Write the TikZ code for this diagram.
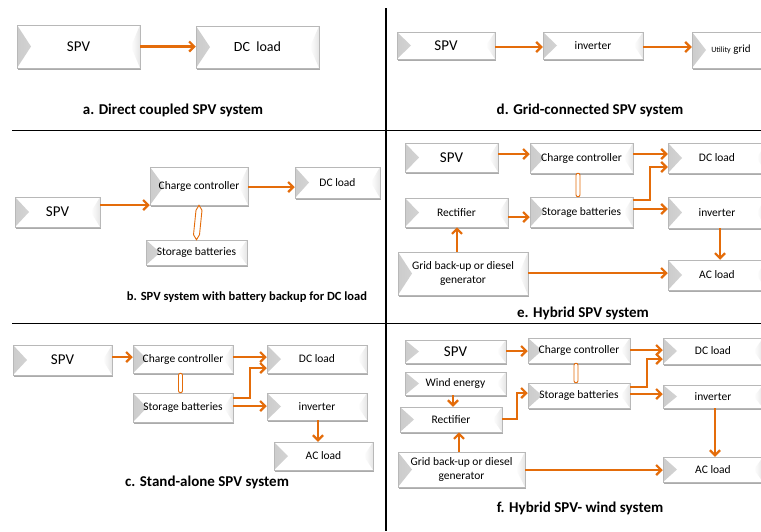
\documentclass[tikz,border=0pt]{standalone}
\usepackage{fontspec}
\setmainfont{Carlito}
\usetikzlibrary{arrows.meta,shadows}
\definecolor{flow}{RGB}{228,108,10}
\tikzset{
  bx/.style={draw=black!28, line width=0.5pt, fill=white, inner sep=1pt, align=center,
    font=\fontsize{11.5}{13.5}\selectfont,
    drop shadow={shadow xshift=0.8pt, shadow yshift=-1.8pt, fill=black!55, opacity=0.6},
    path picture={
      \shade[left color=black!20, right color=white]
        (path picture bounding box.south west) -- (path picture bounding box.north west)
        -- ([xshift=14pt]path picture bounding box.west) -- cycle;
      \shade[left color=white, right color=black!10]
        (path picture bounding box.south east) -- (path picture bounding box.north east)
        -- ([xshift=-9pt]path picture bounding box.east) -- cycle;
    }},
  big/.style={font=\fontsize{15}{17}\selectfont},
  flowarr/.style={draw=flow, line width=2.2pt, -{Straight Barb[length=5pt,width=10pt]}},
  link/.style={draw=flow, line width=0.9pt, fill=white, rounded corners=2pt},
  caption/.style={font=\bfseries\fontsize{15}{17}\selectfont},
  rule/.style={line width=1.6pt, black}
}
\begin{document}
\begin{tikzpicture}[x=1pt, y=-1pt]
\useasboundingbox[fill=white] (0,0) rectangle (761,531);

% panel frames
\draw[rule] (386,8) -- (386,531);
\draw[rule] (12,130.5) -- (761,130.5);
\draw[rule] (12,323.5) -- (761,323.5);

% a. direct coupled
\node[bx, big, minimum width=123pt, minimum height=43pt] (aspv) at (78.5,46.5) {SPV};
\node[bx, font=\fontsize{14}{16}\selectfont, minimum width=123pt, minimum height=42pt] (adc) at (257.5,47) {DC~~load};
\draw[flowarr] (aspv.east) -- (aspv.east -| adc.west);
\node[caption] (capa) at (173,110) {a. Direct coupled SPV system};

% d. grid-connected
\node[bx, big, minimum width=98pt, minimum height=27pt] (dspv) at (446,45.5) {SPV};
\node[bx, minimum width=100pt, minimum height=27pt] (dinv) at (593,45.5) {inverter};
\node[bx, minimum width=78pt, minimum height=36pt] (dgrid) at (731,50) {{\fontsize{8}{9}\selectfont Utility} {\fontsize{11}{12}\selectfont grid}};
\draw[flowarr] (dspv.east |- 0,47) -- (dinv.west |- 0,47);
\draw[flowarr] (dinv.east |- 0,47) -- (dgrid.west |- 0,47);
\node[caption] (capd) at (590,110) {d. Grid-connected SPV system};

% b. battery backup
\node[bx, big, minimum width=85pt, minimum height=30pt] (bspv) at (57.5,212) {SPV};
\node[bx, minimum width=98pt, minimum height=38pt] (bcc) at (199,186) {Charge controller};
\node[bx, minimum width=85pt, minimum height=31pt] (bdc) at (337.5,182.5) {DC load};
\node[bx, minimum width=101pt, minimum height=25pt] (bsb) at (196.5,252.5) {Storage batteries};
\draw[flowarr] (bspv.east |- 0,205) -- (bcc.west |- 0,205);
\draw[flowarr] (bcc.east |- 0,187) -- (bdc.west |- 0,187);
\draw[link, rounded corners=0pt] ([xshift=-3pt,yshift=-5pt]bcc.south) -- (bcc.south)
  -- ([xshift=3pt,yshift=-5pt]bcc.south) -- ([xshift=3pt,yshift=5pt]bsb.north)
  -- (bsb.north) -- ([xshift=-3pt,yshift=5pt]bsb.north) -- cycle;
\node[caption, font=\bfseries\fontsize{12.5}{14}\selectfont] (capb) at (247,297) {b. SPV system with battery backup for DC load};

% c. stand-alone
\node[bx, big, minimum width=99pt, minimum height=30pt] (cspv) at (62.5,360) {SPV};
\node[bx, minimum width=100pt, minimum height=28pt] (ccc) at (183,359) {Charge controller};
\node[bx, minimum width=100pt, minimum height=28pt] (cdc) at (317,359) {DC load};
\node[bx, minimum width=100pt, minimum height=29pt] (csb) at (183,407.5) {Storage batteries};
\node[bx, minimum width=100pt, minimum height=27pt] (cinv) at (317,406.5) {inverter};
\node[bx, minimum width=99pt, minimum height=28pt] (cac) at (323.5,456) {AC load};
\draw[flowarr] (cspv.east |- 0,357) -- (ccc.west |- 0,357);
\draw[flowarr] (ccc.east |- 0,357) -- (cdc.west |- 0,357);
\draw[flowarr] (csb.east |- 0,398) -- (250,398) -- (250,368) -- (cdc.west |- 0,368);
\draw[flowarr] (csb.east |- 0,406) -- (cinv.west |- 0,406);
\draw[flowarr] (cinv.south -| 318,0) -- (cac.north -| 318,0);
\draw[link] ([xshift=-4.5pt]ccc.south) rectangle ([xshift=-0.5pt]csb.north);
\node[caption] (capc) at (207,482) {c. Stand-alone SPV system};

% e. hybrid
\node[bx, big, minimum width=93pt, minimum height=29pt] (espv) at (451.5,157.5) {SPV};
\node[bx, minimum width=103pt, minimum height=30pt] (ecc) at (581.5,158) {Charge controller};
\node[bx, minimum width=98pt, minimum height=30pt] (edc) at (717,158) {DC load};
\node[bx, minimum width=103pt, minimum height=29pt] (erect) at (456.5,212.5) {Rectifier};
\node[bx, minimum width=103pt, minimum height=30pt] (esb) at (581.5,212) {Storage batteries};
\node[bx, minimum width=98pt, minimum height=31pt] (einv) at (717,212.5) {inverter};
\node[bx, minimum width=130pt, minimum height=43pt] (egrid) at (463,273.5) {Grid back-up or diesel\\generator};
\node[bx, minimum width=98pt, minimum height=30pt] (eac) at (717,275) {AC load};
\draw[flowarr] (espv.east |- 0,154) -- (ecc.west |- 0,154);
\draw[flowarr] (ecc.east |- 0,154) -- (edc.west |- 0,154);
\draw[flowarr] (esb.east |- 0,200) -- (650,200) -- (650,167) -- (edc.west |- 0,167);
\draw[flowarr] (esb.east |- 0,209) -- (einv.west |- 0,209);
\draw[flowarr] (erect.east |- 0,217) -- (esb.west |- 0,217);
\draw[flowarr] (egrid.north -| 457,0) -- (erect.south -| 457,0);
\draw[flowarr] (egrid.east |- 0,273) -- (eac.west |- 0,273);
\draw[flowarr] (einv.south -| 720,0) -- (eac.north -| 720,0);
\draw[link] ([xshift=-5.5pt]ecc.south) rectangle ([xshift=-1.5pt]esb.north);
\node[caption] (cape) at (583,313) {e. Hybrid SPV system};

% f. hybrid with wind
\node[bx, big, minimum width=101pt, minimum height=23pt] (fspv) at (455.5,351.5) {SPV};
\node[bx, minimum width=102pt, minimum height=25pt] (fcc) at (579,350.5) {Charge controller};
\node[bx, minimum width=100pt, minimum height=26pt] (fdc) at (713,351) {DC load};
\node[bx, minimum width=101pt, minimum height=23pt] (fwind) at (455.5,383.5) {Wind energy};
\node[bx, minimum width=102pt, minimum height=25pt] (frect) at (451,419.5) {Rectifier};
\node[bx, minimum width=102pt, minimum height=25pt] (fsb) at (579,395.5) {Storage batteries};
\node[bx, minimum width=100pt, minimum height=23pt] (finv) at (713,396.5) {inverter};
\node[bx, minimum width=127pt, minimum height=35pt] (fgrid) at (461.5,469.5) {Grid back-up or diesel\\generator};
\node[bx, minimum width=100pt, minimum height=25pt] (fac) at (713,469.5) {AC load};
\draw[flowarr] (fspv.east |- 0,351) -- (fcc.west |- 0,351);
\draw[flowarr] (fcc.east |- 0,350) -- (fdc.west |- 0,350);
\draw[flowarr] (fsb.east |- 0,387) -- (647,387) -- (647,359) -- (fdc.west |- 0,359);
\draw[flowarr] (fsb.east |- 0,394) -- (finv.west |- 0,394);
\draw[flowarr] (fwind.south -| 453,0) -- (frect.north -| 453,0);
\draw[flowarr] (frect.east |- 0,419) -- (517,419) -- (517,393) -- (fsb.west |- 0,393);
\draw[flowarr] (fgrid.north -| 459,0) -- (frect.south -| 459,0);
\draw[flowarr] (fgrid.east |- 0,470) -- (fac.west |- 0,470);
\draw[flowarr] (finv.south -| 715,0) -- (fac.north -| 715,0);
\draw[link] ([xshift=-5pt]fcc.south) rectangle ([xshift=-1pt]fsb.north);
\node[caption] (capf) at (580,508) {f. Hybrid SPV- wind system};
\end{tikzpicture}
\end{document}
